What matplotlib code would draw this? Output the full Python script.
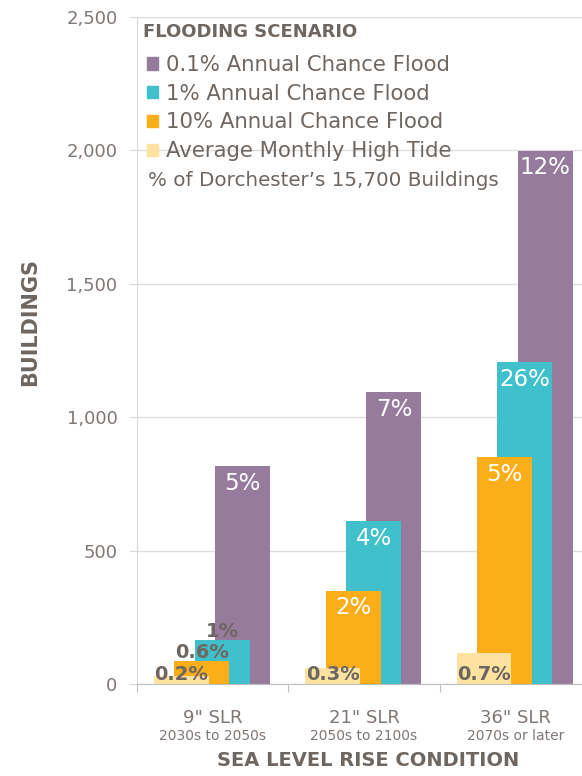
import numpy as np
import matplotlib
matplotlib.use('Agg')
import matplotlib.pyplot as plt
import matplotlib.transforms as mtransforms
from matplotlib.patches import Patch
from matplotlib.ticker import StrMethodFormatter

# data
conditions = ['9" SLR', '21" SLR', '36" SLR']
periods = ['2030s to 2050s', '2050s to 2100s', '2070s or later']
series = ['Average Monthly High Tide', '10% Annual Chance Flood',
          '1% Annual Chance Flood', '0.1% Annual Chance Flood']
tide = [30, 60, 116]
flood10 = [86, 349, 851]
flood1 = [165, 611, 1207]
flood01 = [817, 1094, 1998]
tide_pct = ['0.2%', '0.3%', '0.7%']
flood10_pct = ['0.6%', '2%', '5%']
flood1_pct = ['1%', '4%', '26%']
flood01_pct = ['5%', '7%', '12%']

colors = ['#FDE2A0', '#FBAE1A', '#40C0CB', '#977B9D']
grey = '#6E6661'
light = '#7F7773'

plt.rcParams['font.family'] = ['DejaVu Sans']

fig = plt.figure(figsize=(5.82, 7.76), dpi=100)
ax = fig.add_axes([137 / 582, 92 / 776, 445 / 582, 667 / 776])

x = np.arange(len(conditions))
width = 0.363
offsets = (np.arange(4) - 1.5) * 0.135 - 0.005
values = [tide, flood10, flood1, flood01]
labels = [tide_pct, flood10_pct, flood1_pct, flood01_pct]

# purple at back, tide in front
for k in [3, 2, 1, 0]:
    ax.bar(x + offsets[k], values[k], width, color=colors[k], zorder=2 + (3 - k))

# percentage labels
for k in range(4):
    for i in range(len(x)):
        v = values[k][i]
        xc = x[i] + offsets[k]
        if k == 0:
            ax.annotate(labels[k][i], (xc, 0), xytext=(0, 0), textcoords='offset points',
                        ha='center', va='bottom', fontsize=14, fontweight='bold',
                        color=grey, zorder=10)
        elif v > 300:
            ax.annotate(labels[k][i], (xc, v), xytext=(0, -4), textcoords='offset points',
                        ha='center', va='top', fontsize=16.5, color='white', zorder=10)
        else:
            ax.annotate(labels[k][i], (xc, v), xytext=(0, -1), textcoords='offset points',
                        ha='center', va='bottom', fontsize=14, fontweight='bold',
                        color=grey, zorder=10)

ax.set_xlim(-0.5, 2.44)
ax.set_ylim(0, 2500)
ax.set_yticks([0, 500, 1000, 1500, 2000, 2500])
ax.yaxis.set_major_formatter(StrMethodFormatter('{x:,.0f}'))
ax.set_xticks([-0.5, 0.5, 1.5])
ax.set_xticklabels([])
ax.tick_params(axis='y', length=6, color='#D9D9D9', labelsize=13, labelcolor=light, pad=8)
ax.tick_params(axis='x', length=6, color='#BFBFBF')
ax.grid(axis='y', color='#DDDDDD', linewidth=1, zorder=0)
ax.set_axisbelow(True)
for s in ['top', 'right']:
    ax.spines[s].set_visible(False)
ax.spines['left'].set_color('#D9D9D9')
ax.spines['bottom'].set_color('#BFBFBF')

# category labels
trans = mtransforms.blended_transform_factory(ax.transData, fig.transFigure)
for i in range(len(x)):
    ax.text(x[i], 1 - 718 / 776, conditions[i], transform=trans, ha='center', va='center',
            fontsize=13, color=light)
    ax.text(x[i], 1 - 736 / 776, periods[i], transform=trans, ha='center', va='center',
            fontsize=10, color=light)

fig.text(368 / 582, 1 - 760 / 776, 'SEA LEVEL RISE CONDITION', ha='center', va='center',
         fontsize=14, fontweight='bold', color=grey)
fig.text(30 / 582, 1 - 322 / 776, 'BUILDINGS', rotation=90, ha='center', va='center',
         fontsize=15, fontweight='bold', color=grey)

# legend
fig.text(143 / 582, 1 - 32 / 776, 'FLOODING SCENARIO', ha='left', va='center',
         fontsize=13, fontweight='bold', color=grey)
handles = [Patch(color=colors[k], label=series[k]) for k in [3, 2, 1, 0]]
leg = ax.legend(handles=handles, loc='upper left', bbox_to_anchor=(147 / 582, 1 - 55 / 776),
                bbox_transform=fig.transFigure, frameon=False, fontsize=15.3,
                handlelength=0.5, handleheight=0.5, handletextpad=0.4,
                labelspacing=0.41, borderpad=0, borderaxespad=0)
for t in leg.get_texts():
    t.set_color(grey)
fig.text(148 / 582, 1 - 181 / 776, "% of Dorchester\u2019s 15,700 Buildings", ha='left',
         va='center', fontsize=14.3, color=grey)

plt.savefig('out.png', dpi=100)
